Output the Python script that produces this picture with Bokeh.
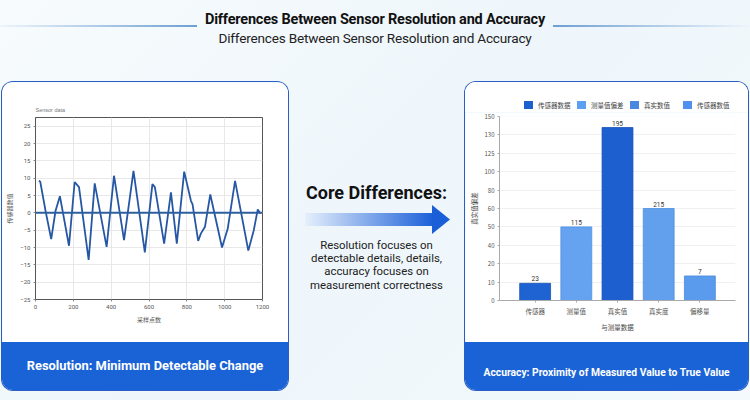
import numpy as np
from bokeh.plotting import figure
from bokeh.layouts import column, row
from bokeh.models import (ColumnDataSource, FixedTicker, Range1d, FactorRange,
                          Span, Div)
from bokeh.core.properties import value
from bokeh.embed import file_html
from bokeh.resources import INLINE

# ---------------- texts ----------------
title_text = "Differences Between Sensor Resolution and Accuracy"
subtitle_text = "Differences Between Sensor Resolution and Accuracy"
core_title = "Core Differences:"
core_lines = ["Resolution focuses on", "detectable details, details,",
              "accuracy focuses on", "measurement correctness"]
left_footer = "Resolution: Minimum Detectable Change"
right_footer = "Accuracy: Proximity of Measured Value to True Value"

# ---------------- line chart data ----------------
line_title = "Sensor data"
line_x_label = "采样点数"
line_y_label = "传感器数值"
sample_x = [18, 25, 53, 83, 106, 129, 177, 207, 230, 281, 313, 376, 415, 468,
            518, 578, 618, 631, 680, 716, 747, 786, 822, 830, 860, 874, 896,
            924, 986, 1016, 1055, 1125, 1154, 1175, 1189]
sensor_y = [9.3, 9.0, 0.6, -7.6, 0.6, 4.8, -9.5, 8.9, 7.4, -13.6, 8.5, -9.8,
            10.7, -7.9, 12.1, -11.4, 8.3, 7.4, -8.9, 5.9, -8.9, 11.9, 3.4,
            2.5, -8.1, -6.0, -4.0, 5.3, -10.0, -4.6, 9.2, -10.9, -5.0, 1.0,
            -0.2]
line_x_ticks = [0, 200, 400, 600, 800, 1000, 1200]
line_y_ticks = [-25, -20, -15, -10, -5, 0, 5, 10, 15, 20, 25]

# ---------------- bar chart data ----------------
bar_categories = ["传感器", "测量值", "真实值", "真实度", "偏移量"]
bar_values = [14, 60, 141, 75, 20]
bar_labels = ["23", "115", "195", "215", "7"]
bar_y_ticks = [0, 15, 30, 45, 60, 75, 90, 105, 120, 135, 150]
bar_y_tick_labels = ["0", "10", "20", "40", "50", "60", "80", "100", "125", "130", "150"]
legend_labels = ["传感器数据", "测量值偏差", "真实数值", "传感器数值"]
bar_x_label = "与测量数据"
bar_y_label = "真实值偏差"

# ---------------- styles ----------------
bar_colors = ["#1f63d3", "#65a3f0", "#1d5fcf", "#62a0ee", "#5a9bee"]
bar_edges = ["#1a55b8", "#4f8fdf", "#1850b5", "#4f8fdf", "#4a88dc"]
legend_colors = ["#1e5fcf", "#5e9ff0", "#4a87e0", "#4f90f0"]
FOOT = "#1a63d6"
CJK = "Noto Sans CJK SC"
CARD_STYLE = {"border-radius": "11px", "overflow": "hidden",
              "box-shadow": "0 0 0 1px #2a5ec4"}

# ---------------- header ----------------
hdr_html = f"""
<div style="position:relative;width:750px;height:82px;font-family:Roboto,sans-serif;">
  <div style="position:absolute;left:0;top:25px;width:197px;height:2px;
       background:linear-gradient(90deg,#eef5fb,#6d9fd2);"></div>
  <div style="position:absolute;left:553px;top:25px;width:197px;height:2px;
       background:linear-gradient(90deg,#6d9fd2,#eef5fb);"></div>
  <div style="position:absolute;left:0;top:11px;width:750px;text-align:center;
       font-weight:bold;font-size:14.5px;line-height:18px;letter-spacing:-0.2px;color:#111;">{title_text}</div>
  <div style="position:absolute;left:0;top:29px;width:750px;text-align:center;
       font-size:13.6px;line-height:18px;letter-spacing:-0.2px;color:#222;">{subtitle_text}</div>
</div>"""
hdr = Div(text=hdr_html, width=750, height=82, margin=0)

# ---------------- middle ----------------
lines_html = "".join(f"<div>{t}</div>" for t in core_lines)
mid_html = f"""
<div style="position:relative;width:177px;height:308px;font-family:Roboto,sans-serif;">
  <div style="position:absolute;left:0;top:99px;width:177px;text-align:center;
       font-weight:bold;font-size:18px;line-height:24px;color:#111;">{core_title}</div>
  <div style="position:absolute;left:17px;top:131px;width:129px;height:13px;
       background:linear-gradient(90deg,#e6f0fc,#1a5fd8);"></div>
  <div style="position:absolute;left:144px;top:123px;width:18px;height:29px;
       background:#1a5ed8;clip-path:polygon(0 0,100% 50%,0 100%);"></div>
  <div style="position:absolute;left:0;top:157px;width:177px;text-align:center;
       font-size:11.4px;line-height:13.2px;color:#222;">{lines_html}</div>
</div>"""
mid = Div(text=mid_html, width=177, height=308, margin=0)


def footer(text, w, size, pad):
    html = (f'<div style="width:{w}px;height:48px;box-sizing:border-box;'
            f'padding-top:{pad}px;line-height:14px;text-align:center;white-space:nowrap;'
            f'font-family:Roboto,sans-serif;font-weight:bold;font-size:{size};'
            f'color:white;">{text}</div>')
    return Div(text=html, width=w, height=48, margin=0,
               styles={"background-color": FOOT})


# ---------------- line chart ----------------
p1 = figure(width=286, height=260, x_range=Range1d(0, 1200),
            y_range=Range1d(-25, 27.5), toolbar_location=None,
            output_backend="svg", min_border_left=33, min_border_right=26,
            min_border_top=35, min_border_bottom=43)
p1.background_fill_color = "white"
p1.border_fill_color = "white"
p1.outline_line_color = "#555555"
p1.outline_line_width = 1
p1.title.text = line_title
p1.title.text_font_size = "5.5px"
p1.title.text_font_style = "normal"
p1.title.text_color = "#777777"
p1.title.offset = 0
p1.add_layout(Span(location=0, dimension="width", line_color="#2d5f9e",
                   line_width=2))
p1.line(sample_x, sensor_y, line_color="#2657a5", line_width=1.8)
p1.xaxis.ticker = FixedTicker(ticks=line_x_ticks)
p1.yaxis.ticker = FixedTicker(ticks=line_y_ticks)
p1.xaxis.axis_label = line_x_label
p1.yaxis.axis_label = line_y_label
for ax in (p1.xaxis[0], p1.yaxis[0]):
    ax.axis_line_color = "#555555"
    ax.major_tick_line_color = "#888888"
    ax.major_tick_out = 2
    ax.major_tick_in = 0
    ax.minor_tick_line_color = None
    ax.major_label_text_font_size = "6px"
    ax.major_label_text_color = "#555555"
    ax.major_label_text_font = "Roboto"
    ax.axis_label_text_font_size = "6px"
    ax.axis_label_text_font = CJK
    ax.axis_label_text_font_style = "normal"
    ax.axis_label_text_color = "#555555"
    ax.axis_label_standoff = 3
    ax.major_label_standoff = 3
p1.grid.grid_line_color = "#e8e8e8"

card1 = column(p1, footer(left_footer, 286, "12.9px", 17), styles=CARD_STYLE,
               margin=(0, 0, 0, 2))

# ---------------- bar chart ----------------
items_html = "".join(
    f'<span style="display:inline-flex;align-items:center;width:53px;">'
    f'<span style="display:inline-block;width:9px;height:8px;background:{c};'
    f'margin-right:5px;"></span>{lab}</span>'
    for lab, c in zip(legend_labels, legend_colors))
leg_html = (f'<div style="width:283px;height:30px;box-sizing:border-box;'
            f'padding:18px 0 0 59px;white-space:nowrap;font-family:\'{CJK}\';'
            f'font-size:6.5px;line-height:10px;color:#444;">{items_html}</div>')
leg = Div(text=leg_html, width=283, height=30, margin=0,
          styles={"background-color": "white"})

p2 = figure(width=283, height=230,
            x_range=FactorRange(*bar_categories, range_padding=0.146),
            y_range=Range1d(0, 150), toolbar_location=None, output_backend="svg",
            min_border_left=32, min_border_right=13, min_border_top=4,
            min_border_bottom=42)
p2.background_fill_color = "white"
p2.border_fill_color = "white"
p2.outline_line_color = None
src = ColumnDataSource(dict(cat=bar_categories, val=bar_values, lab=bar_labels,
                            col=bar_colors, edge=bar_edges))
p2.vbar(x="cat", top="val", width=0.75, source=src, fill_color="col",
        line_color="edge", line_width=0.8)
p2.text(x="cat", y="val", text="lab", source=src, text_align="center",
        text_baseline="bottom", y_offset=-2, text_font_size="6.5px",
        text_color="#333333", text_font=value("Roboto"))
p2.yaxis.ticker = FixedTicker(ticks=bar_y_ticks)
p2.yaxis.major_label_overrides = {t: l for t, l in zip(bar_y_ticks, bar_y_tick_labels)}
p2.xaxis.axis_label = bar_x_label
p2.yaxis.axis_label = bar_y_label
for ax in (p2.xaxis[0], p2.yaxis[0]):
    ax.axis_line_color = "#aaaaaa"
    ax.major_tick_line_color = "#aaaaaa"
    ax.major_tick_out = 2
    ax.major_tick_in = 0
    ax.minor_tick_line_color = None
    ax.major_label_text_font_size = "6px"
    ax.major_label_text_color = "#555555"
    ax.major_label_text_font = CJK
    ax.axis_label_text_font_size = "6.5px"
    ax.axis_label_text_font = CJK
    ax.axis_label_text_font_style = "normal"
    ax.axis_label_text_color = "#444444"
    ax.axis_label_standoff = 3
    ax.major_label_standoff = 3
p2.xaxis.major_label_text_font_size = "6.5px"
p2.xgrid.grid_line_color = None
p2.ygrid.grid_line_color = "#f0f0f0"

card2 = column(leg, p2, footer(right_footer, 283, "10.3px", 24),
               styles=CARD_STYLE)

bottom = Div(text="", width=750, height=10, margin=0)
root = column(hdr, row(card1, mid, card2), bottom,
              styles={"background": "linear-gradient(135deg, #f7fbfd 0%, #eef6fb 50%, #f3f9fc 100%)"})

open("out.html", "w").write(file_html(root, INLINE))
